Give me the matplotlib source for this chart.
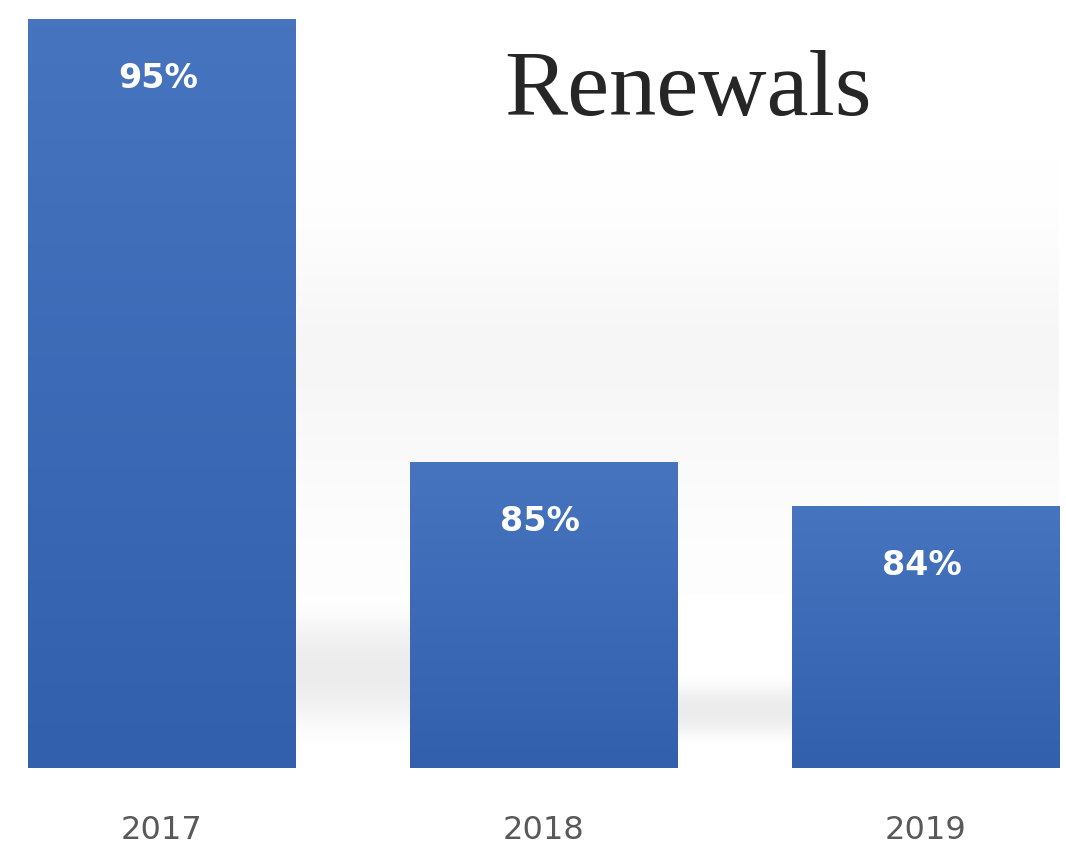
import matplotlib.pyplot as plt
import matplotlib.colors as mcolors
import numpy as np

years = ["2017", "2018", "2019"]
renewals = [95, 85, 84]
value_labels = ["95%", "85%", "84%"]

fig = plt.figure(figsize=(10.66, 8.52), dpi=100)
ax = fig.add_axes([0, 84 / 852, 1, 768 / 852])

x = np.arange(len(years))
ymin = 78.09
ax.set_xlim(-0.423, 2.368)
ax.set_ylim(ymin, ymin + 768 / 44.3)

# faint back-wall shading
wall = np.array([0.0, 0.4, 1.0, 0.7, 0.4, 0.1]).reshape(-1, 1)
wall_cmap = mcolors.LinearSegmentedColormap.from_list("wall", ["#ffffff", "#f5f5f5"])
ax.imshow(wall, cmap=wall_cmap, vmin=0, vmax=1, aspect="auto",
          extent=(0.35, 2.35, 82.0, 91.8), origin="upper", zorder=0,
          interpolation="bicubic")

# soft floor shadows between bars
shade_cmap = mcolors.LinearSegmentedColormap.from_list("shade", ["#ffffff", "#ececec"])
profile = np.array([0.0, 0.6, 1.0, 1.0, 0.7, 0.0]).reshape(-1, 1)
for i in range(1, len(years)):
    top = 82.0 if i == 1 else 80.2
    ax.imshow(profile, cmap=shade_cmap, vmin=0, vmax=1, aspect="auto", origin="upper",
              extent=(i - 0.65, i - 0.35, ymin + 0.5, top), zorder=0.5,
              interpolation="bicubic")

bars = ax.bar(x, renewals, width=0.70, bottom=0, color="#4472c4", zorder=2)

# top-to-bottom gradient on each bar
bar_cmap = mcolors.LinearSegmentedColormap.from_list("bar", ["#3360ad", "#4674be"])
grad = np.linspace(0, 1, 100).reshape(-1, 1)
for b in bars:
    x0, w, h = b.get_x(), b.get_width(), b.get_height()
    im = ax.imshow(grad, cmap=bar_cmap, aspect="auto", origin="lower",
                   extent=(x0, x0 + w, ymin, h), zorder=3)
    im.set_clip_path(b)

for xi, val, lab in zip(x, renewals, value_labels):
    ax.text(xi - 0.01, val - 1.35, lab, ha="center", va="center", color="white",
            fontsize=24, fontweight="bold", zorder=4)

ax.set_xlim(-0.423, 2.368)
ax.set_ylim(ymin, ymin + 768 / 44.3)
ax.set_xticks(x)
ax.set_xticklabels(years, fontsize=23, color="#595959")
ax.tick_params(axis="x", length=0, pad=34)
ax.set_yticks([])
for s in ax.spines.values():
    s.set_visible(False)

fig.text(688 / 1066, 1 - 92 / 852, "Renewals", ha="center", va="center",
         fontsize=68, family="Liberation Serif", color="#262626")

fig.savefig("out.png", dpi=100, facecolor="white")
